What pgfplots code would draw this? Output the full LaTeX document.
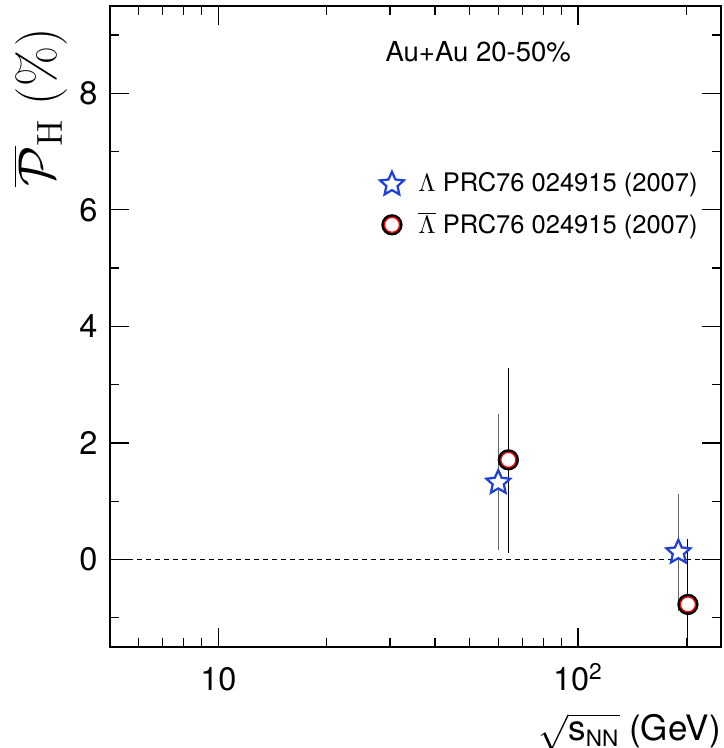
\documentclass[border=0pt]{standalone}
\usepackage[no-math]{fontspec}
\setmainfont{TeX Gyre Heros}
\usepackage{pgfplots}
\pgfplotsset{compat=1.18}

\definecolor{starblue}{rgb}{0.12,0.25,0.85}

% five-pointed star mark (ROOT style open star)
\pgfdeclareplotmark{fstar}{%
  \pgfpathmoveto{\pgfpointpolar{90}{\pgfplotmarksize}}%
  \pgfpathlineto{\pgfpointpolar{126}{0.47\pgfplotmarksize}}%
  \pgfpathlineto{\pgfpointpolar{162}{\pgfplotmarksize}}%
  \pgfpathlineto{\pgfpointpolar{198}{0.47\pgfplotmarksize}}%
  \pgfpathlineto{\pgfpointpolar{234}{\pgfplotmarksize}}%
  \pgfpathlineto{\pgfpointpolar{270}{0.47\pgfplotmarksize}}%
  \pgfpathlineto{\pgfpointpolar{306}{\pgfplotmarksize}}%
  \pgfpathlineto{\pgfpointpolar{342}{0.47\pgfplotmarksize}}%
  \pgfpathlineto{\pgfpointpolar{18}{\pgfplotmarksize}}%
  \pgfpathlineto{\pgfpointpolar{54}{0.47\pgfplotmarksize}}%
  \pgfpathclose
  \pgfusepathqfillstroke}

\begin{document}
\begin{tikzpicture}
\begin{axis}[
    scale only axis,
    width=244.4pt, height=256.4pt,
    xmode=log,
    xmin=5, xmax=250,
    ymin=-1.5, ymax=9.5,
    xtick={10,100},
    xticklabels={10,10\textsuperscript{2}},
    minor xtick={6,7,8,9,20,30,40,50,60,70,80,90,200},
    ytick={0,2,4,6,8},
    minor ytick={-1,1,3,5,7,9},
    tick align=inside,
    major tick length=7.5pt,
    minor tick length=3.6pt,
    axis line style={line width=0.6pt},
    every tick/.style={black, line width=0.5pt},
    /pgf/number format/assume math mode=true,
    tick label style={font=\fontsize{13}{13}\selectfont},
    xticklabel style={anchor=base, inner sep=0pt, yshift=-17.5pt},
    yticklabel style={anchor=east, inner sep=0pt, xshift=-4.8pt},
    xlabel={$\sqrt{\mbox{s}_{\mbox{\fontsize{9}{9}\selectfont NN}}}$ (GeV)},
    xlabel style={at={([yshift=-37.5pt]rel axis cs:1,0)}, anchor=base east,
        inner sep=0pt, font=\fontsize{14}{14}\selectfont},
    ylabel={$\overline{\mathcal{P}}_{\mathrm{H}}\ (\%)$},
    ylabel style={at={([xshift=-17pt,yshift=-8.8pt]rel axis cs:0,1)},
        anchor=south east, inner sep=0pt, font=\fontsize{19.5}{19.5}\selectfont},
    legend style={at={(rel axis cs:0.4255,0.748)}, anchor=north west,
        draw=none, fill=none, inner sep=0pt,
        font=\fontsize{10.2}{10.2}\selectfont,
        nodes={inner xsep=2pt},
        row sep=2.5pt},
    legend cell align=left,
    error bars/error bar style={line width=0.45pt},
]

% zero line
\addplot[black, line width=0.4pt, dash pattern=on 2pt off 1.6pt, forget plot]
    coordinates {(5,0) (250,0)};

% Lambda-bar: error bars and circles (drawn first, stars on top)
\addplot[only marks, mark=*, mark size=3.7pt,
    mark options={draw=black, fill=white, line width=1.1pt}, forget plot,
    error bars/.cd, y dir=both, y explicit, error mark=none,
    error bar style={black}]
    coordinates {
    (64, 1.71) += (0,1.58) -= (0,1.60)
    (202, -0.77) += (0,1.13) -= (0,1.13)
    };
\addplot[only marks, mark=o, mark size=3.0pt,
    mark options={draw=red, line width=0.5pt}, forget plot]
    coordinates {
    (64, 1.71)
    (202, -0.77)
    };

% Lambda: stars
\addplot[only marks, mark=fstar, mark size=5pt,
    mark options={draw=starblue, fill=white, line width=0.9pt}, forget plot,
    error bars/.cd, y dir=both, y explicit, error mark=none,
    error bar style={black!60}]
    coordinates {
    (60, 1.32) += (0,1.17) -= (0,1.16)
    (190, 0.125) += (0,1.00) -= (0,1.00)
    };

\addlegendimage{legend image code/.code={
    \path[draw=none, fill=none] (0cm,-3pt) rectangle (0.6cm,3pt);
    \draw plot[only marks, mark=fstar, mark size=5pt,
        mark options={draw=starblue, fill=white, line width=0.9pt}]
        coordinates {(0.3cm,0cm)};}}
\addlegendentry{$\Lambda$ PRC76 024915 (2007)}
\addlegendimage{legend image code/.code={
    \path[draw=none, fill=none] (0cm,-3pt) rectangle (0.6cm,3pt);
    \draw[black, fill=white, line width=1.1pt] (0.3cm,0cm) circle (3.7pt);
    \draw[red, line width=0.5pt] (0.3cm,0cm) circle (3.0pt);}}
\addlegendentry{$\overline{\Lambda}$ PRC76 024915 (2007)}

\node[anchor=base west, inner sep=0pt, font=\fontsize{11}{11}\selectfont]
    at (rel axis cs:0.45,0.9126) {Au+Au 20-50\%};
\end{axis}
\pgfresetboundingbox
\path (current axis.south west) ++(-44pt,-40.4pt) rectangle
      ([xshift=0.8pt,yshift=2.3pt]current axis.north east);
\end{tikzpicture}
\end{document}
